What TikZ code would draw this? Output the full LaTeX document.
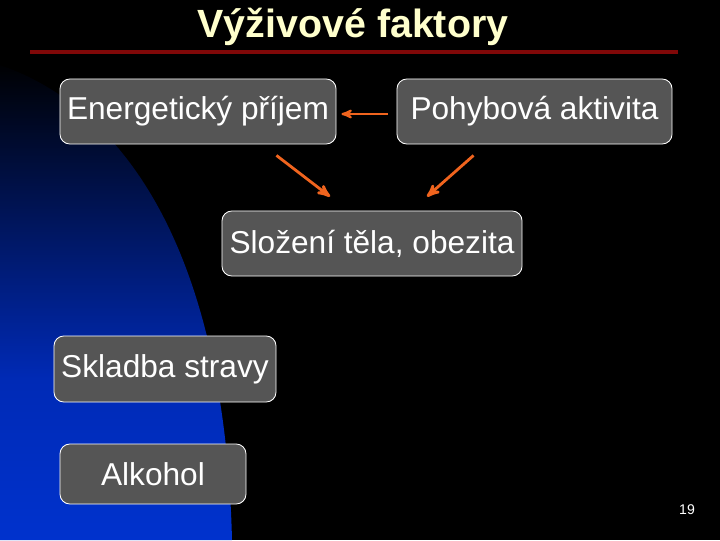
\documentclass[tikz,border=0pt]{standalone}
\usepackage{fontspec}
\setmainfont{Liberation Sans}
\usepackage{xcolor}
\usetikzlibrary{arrows,positioning,calc}
\definecolor{boxgrey}{RGB}{85,85,85}
\definecolor{titlecream}{RGB}{255,255,204}
\definecolor{rulered}{RGB}{128,8,8}
\definecolor{arrorange}{RGB}{240,100,30}
\definecolor{slideblue}{RGB}{0,50,205}
\definecolor{midblue}{RGB}{0,42,182}

\begin{document}
\begin{tikzpicture}[x=0.025cm,y=-0.025cm,>=stealth',
  factor/.style={rectangle,rounded corners=7pt,draw=white,line width=0.6pt,fill=boxgrey,
    text=white,font=\fontsize{22.5}{26}\selectfont,inner sep=0pt,minimum height=1.625cm},
  arr/.style={->,draw=arrorange,line width=2pt}]
          % background
          \fill[black] (0,0) rectangle (720,540);
          \begin{scope}
            \clip (0,65) .. controls (130,110) and (225,260) .. (232,540) -- (0,540) -- cycle;
            \shade[top color=black,bottom color=midblue] (0,60) rectangle (240,380);
            \shade[top color=midblue,bottom color=slideblue] (0,380) rectangle (240,540);
          \end{scope}
          % title
          \node[text=titlecream,font=\fontsize{28}{32}\selectfont\bfseries] (title) at (353,27) {Výživové faktory};
          \draw[rulered,line width=2.2pt] (30,52)--(678,52);
          % boxes
          \node[factor,minimum width=6.9cm] at (198,111.5) (energ) {Energetický příjem};
          \node[factor,minimum width=6.875cm] at (534.5,111.5) (pohyb) {Pohybová aktivita};
          \node[factor,minimum width=7.5cm] at (372,243.5) (slozeni) {Složení těla, obezita};
          \node[factor,minimum width=5.55cm,minimum height=1.65cm] at (165,369) (skladba) {Skladba stravy};
          \node[factor,minimum width=4.65cm,minimum height=1.5cm] at (153,474) (alkohol) {Alkohol};
          % arrows
          \draw[arr,line width=1.5pt,shorten <=9*0.025cm,shorten >=5*0.025cm] (pohyb.west |- 0,114)--(energ.east |- 0,114);
          \draw[arr] ($(energ.south east)+(-60,11)$)--($(slozeni.north)+(-42,-14)$);
          \draw[arr] ($(pohyb.south west)+(77,11)$)--($(slozeni.north)+(55,-14)$);
          % page number
          \node[text=white,font=\fontsize{10}{12}\selectfont] (page) at (687,510) {19};
        \end{tikzpicture}
\end{document}
